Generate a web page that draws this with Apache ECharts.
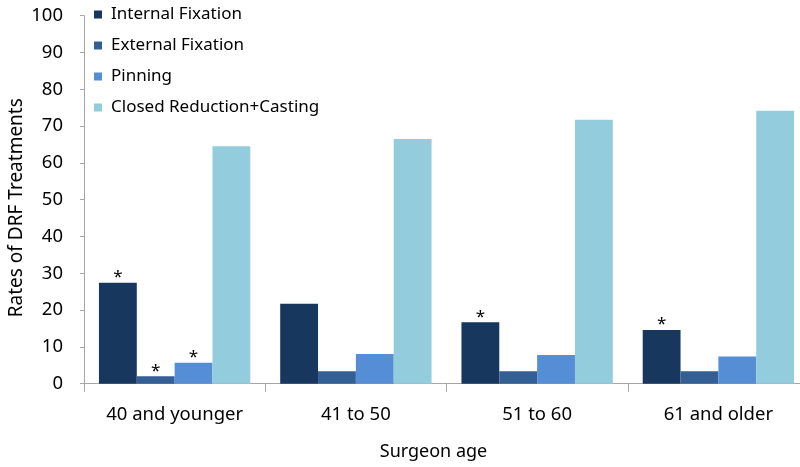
<!DOCTYPE html>
<html>
<head>
<meta charset="utf-8">
<script src="https://cdn.jsdelivr.net/npm/echarts@6/dist/echarts.min.js"></script>
<style>html,body{margin:0;padding:0;background:#fff;}#c{width:800px;height:467px;}</style>
</head>
<body>
<div id="c"></div>
<script>
const categories = ['40 and younger', '41 to 50', '51 to 60', '61 and older'];
const seriesNames = ['Internal Fixation', 'External Fixation', 'Pinning', 'Closed Reduction+Casting'];
const internalFixation = [27.4, 21.7, 16.7, 14.6];
const externalFixation = [2.0, 3.4, 3.4, 3.4];
const pinning = [5.7, 8.1, 7.8, 7.4];
const closedReduction = [64.5, 66.5, 71.7, 74.2];
// significance markers (asterisks)
const internalSig = [true, false, true, true];
const externalSig = [true, false, false, false];
const pinningSig = [true, false, false, false];
const closedSig = [false, false, false, false];
const yTicks = [0, 10, 20, 30, 40, 50, 60, 70, 80, 90, 100];

const colors = ['#17375E', '#335F95', '#558ED5', '#93CDDD'];
const FONT = 'Noto Sans';

function mk(name, vals, sig, color) {
  return {
    name: name,
    type: 'bar',
    barGap: '0%',
    barCategoryGap: '16.5%',
    itemStyle: { color: color },
    label: {
      show: false, position: 'top', formatter: '*', distance: -3,
      color: '#000', fontSize: 17, fontFamily: FONT
    },
    data: vals.map((v, i) => ({ value: v, label: { show: sig[i] } }))
  };
}

const chart = echarts.init(document.getElementById('c'));
chart.setOption({
  animation: false,
  backgroundColor: '#fff',
  color: colors,
  grid: { left: 84, top: 15.7, width: 725, height: 368, containLabel: false, outerBoundsMode: 'none' },
  legend: {
    orient: 'vertical', left: 89, top: 1,
    itemWidth: 8, itemHeight: 8, itemGap: 14,
    icon: 'rect',
    textStyle: { fontSize: 17, fontFamily: FONT, color: '#000', padding: [0, 0, 0, 4] },
    data: seriesNames
  },
  xAxis: {
    type: 'category',
    data: categories,
    name: 'Surgeon age',
    nameLocation: 'middle',
    nameGap: 59,
    nameMoveOverlap: false,
    nameTextStyle: { fontSize: 18, fontFamily: FONT, color: '#000', padding: [0, 26, 0, 0] },
    axisLine: { lineStyle: { color: '#A6A6A6', width: 1 } },
    axisTick: { show: true, length: 8, lineStyle: { color: '#A6A6A6' } },
    axisLabel: { fontSize: 18.5, fontFamily: FONT, color: '#000', margin: 22 }
  },
  yAxis: {
    type: 'value',
    min: 0, max: 100, interval: 10,
    name: 'Rates of DRF Treatments',
    nameLocation: 'middle',
    nameGap: 58,
    nameMoveOverlap: false,
    nameTextStyle: { fontSize: 19, fontFamily: FONT, color: '#000', padding: [0, 16, 0, 0] },
    axisLine: { show: true, lineStyle: { color: '#A6A6A6', width: 1 } },
    axisTick: { show: true, length: 4, lineStyle: { color: '#A6A6A6' } },
    splitLine: { show: false },
    axisLabel: { fontSize: 18.5, fontFamily: FONT, color: '#000', margin: 21,
      formatter: v => yTicks.includes(v) ? String(v) : '' }
  },
  series: [
    mk(seriesNames[0], internalFixation, internalSig, colors[0]),
    mk(seriesNames[1], externalFixation, externalSig, colors[1]),
    mk(seriesNames[2], pinning, pinningSig, colors[2]),
    mk(seriesNames[3], closedReduction, closedSig, colors[3])
  ]
});
</script>
</body>
</html>
